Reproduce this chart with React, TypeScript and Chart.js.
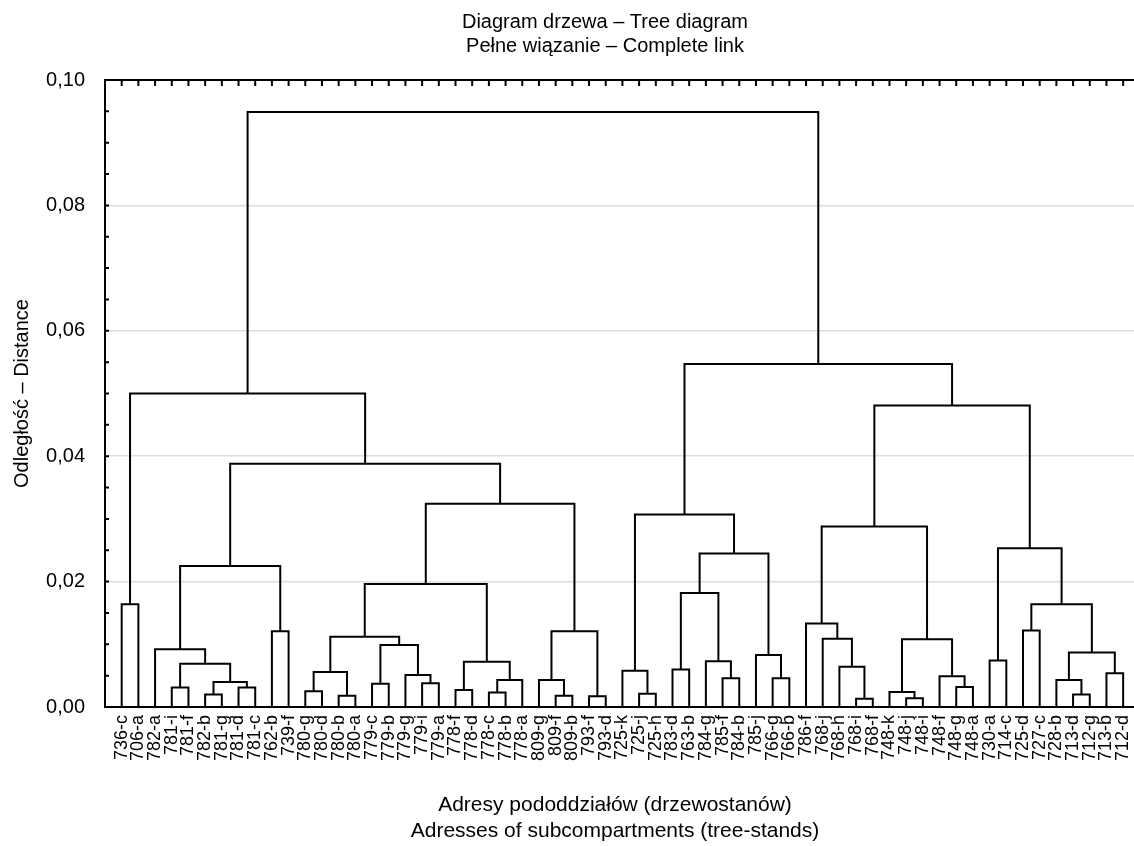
import React, { useEffect, useRef } from 'react';
import { Chart, registerables } from 'chart.js';

Chart.register(...registerables);

const FONT = '"Liberation Sans", Arial, Helvetica, sans-serif';

const titleLines = ['Diagram drzewa – Tree diagram', 'Pełne wiązanie – Complete link'];
const xAxisTitle = ['Adresy pododdziałów (drzewostanów)', 'Adresses of subcompartments (tree-stands)'];
const yAxisTitle = 'Odległość – Distance';

// leaves in dendrogram order (left to right)
const leafLabels = [
  '736-c', '706-a', '782-a', '781-i', '781-f', '782-b', '781-g', '781-d', '781-c', '762-b',
  '739-f', '780-g', '780-d', '780-b', '780-a', '779-c', '779-b', '779-g', '779-i', '779-a',
  '778-f', '778-d', '778-c', '778-b', '778-a', '809-g', '809-f', '809-b', '793-f', '793-d',
  '725-k', '725-j', '725-h', '783-d', '763-b', '784-g', '785-f', '784-b', '785-j', '766-g',
  '766-b', '786-f', '768-j', '768-h', '768-i', '768-f', '748-k', '748-j', '748-i', '748-f',
  '748-g', '748-a', '730-a', '714-c', '725-d', '727-c', '728-b', '713-d', '712-g', '713-b',
  '712-d',
];

// linkage: [childA, childB, distance]; ids 0..60 are leaves, id 61+k is the cluster made by row k
const linkage: [number, number, number][] = [
  [0, 1, 0.0164],     // 61
  [3, 4, 0.0031],     // 62
  [5, 6, 0.0020],     // 63
  [7, 8, 0.0031],     // 64
  [63, 64, 0.0040],   // 65
  [62, 65, 0.0069],   // 66
  [2, 66, 0.0092],    // 67
  [9, 10, 0.0121],    // 68
  [67, 68, 0.0225],   // 69
  [11, 12, 0.0025],   // 70
  [13, 14, 0.0018],   // 71
  [70, 71, 0.0056],   // 72
  [15, 16, 0.0037],   // 73
  [18, 19, 0.0038],   // 74
  [17, 74, 0.0051],   // 75
  [73, 75, 0.0099],   // 76
  [72, 76, 0.0112],   // 77
  [20, 21, 0.0027],   // 78
  [22, 23, 0.0023],   // 79
  [79, 24, 0.0043],   // 80
  [78, 80, 0.0072],   // 81
  [77, 81, 0.0196],   // 82
  [26, 27, 0.0018],   // 83
  [25, 83, 0.0043],   // 84
  [28, 29, 0.0017],   // 85
  [84, 85, 0.0121],   // 86
  [82, 86, 0.0324],   // 87
  [69, 87, 0.0388],   // 88
  [61, 88, 0.0500],   // 89
  [31, 32, 0.0021],   // 90
  [30, 90, 0.0058],   // 91
  [33, 34, 0.0060],   // 92
  [36, 37, 0.0046],   // 93
  [35, 93, 0.0073],   // 94
  [92, 94, 0.0182],   // 95
  [39, 40, 0.0046],   // 96
  [38, 96, 0.0083],   // 97
  [95, 97, 0.0245],   // 98
  [91, 98, 0.0307],   // 99
  [44, 45, 0.0013],   // 100
  [43, 100, 0.0064],  // 101
  [42, 101, 0.0109],  // 102
  [41, 102, 0.0133],  // 103
  [47, 48, 0.0014],   // 104
  [46, 104, 0.0024],  // 105
  [50, 51, 0.0032],   // 106
  [49, 106, 0.0049],  // 107
  [105, 107, 0.0108], // 108
  [103, 108, 0.0288], // 109
  [52, 53, 0.0074],   // 110
  [54, 55, 0.0122],   // 111
  [57, 58, 0.0020],   // 112
  [56, 112, 0.0043],  // 113
  [59, 60, 0.0054],   // 114
  [113, 114, 0.0087], // 115
  [111, 115, 0.0164], // 116
  [110, 116, 0.0253], // 117
  [109, 117, 0.0481], // 118
  [99, 118, 0.0547],  // 119
  [89, 119, 0.0949],  // 120
];

const yMajorTicks = [0, 0.02, 0.04, 0.06, 0.08, 0.1];
const yMinorPerMajor = 4;

function buildSegments() {
  const pos: number[] = leafLabels.map((_, i) => i);
  const hgt: number[] = leafLabels.map(() => 0);
  return linkage.map(([a, b, h]) => {
    const seg = [
      { x: pos[a], y: hgt[a] },
      { x: pos[a], y: h },
      { x: pos[b], y: h },
      { x: pos[b], y: hgt[b] },
    ];
    pos.push((pos[a] + pos[b]) / 2);
    hgt.push(h);
    return seg;
  });
}

function buildYTicks() {
  const out: number[] = [];
  for (let i = 0; i < yMajorTicks.length - 1; i++) {
    const a = yMajorTicks[i];
    const b = yMajorTicks[i + 1];
    for (let k = 0; k < yMinorPerMajor; k++) out.push(a + ((b - a) * k) / yMinorPerMajor);
  }
  out.push(yMajorTicks[yMajorTicks.length - 1]);
  return out;
}

const isMajor = (v: number) => yMajorTicks.some((m) => Math.abs(m - v) < 1e-9);

const framePlugin = {
  id: 'frame',
  afterDraw(chart: any) {
    const { ctx, chartArea } = chart;
    const { left, right, top } = chartArea;
    const xs = chart.scales.x;
    const ys = chart.scales.y;
    ctx.save();
    ctx.strokeStyle = '#000';
    ctx.lineWidth = 2;
    ctx.beginPath();
    ctx.moveTo(left - 1, top);
    ctx.lineTo(right, top);
    ctx.stroke();
    ctx.beginPath();
    leafLabels.forEach((_, i) => {
      const px = xs.getPixelForValue(i);
      ctx.moveTo(px, top);
      ctx.lineTo(px, top + 6);
    });
    buildYTicks().forEach((v) => {
      const py = ys.getPixelForValue(v);
      ctx.moveTo(left, py);
      ctx.lineTo(left + 4, py);
    });
    ctx.stroke();
    ctx.fillStyle = '#000';
    ctx.font = `20px ${FONT}`;
    ctx.textAlign = 'center';
    ctx.textBaseline = 'middle';
    ctx.fillText(titleLines[0], 605, 22);
    ctx.fillText(titleLines[1], 605, 46);
    ctx.font = `21px ${FONT}`;
    ctx.fillText(xAxisTitle[0], 615, 805);
    ctx.fillText(xAxisTitle[1], 615, 831);
    ctx.restore();
  },
};

export default function App() {
  const ref = useRef<HTMLCanvasElement>(null);
  useEffect(() => {
    document.body.style.margin = '0';
    const canvas = ref.current;
    if (!canvas) return;
    Chart.defaults.font.family = FONT;
    const segments = buildSegments();
    const yTicks = buildYTicks();
    const chart = new Chart(canvas, {
      type: 'line',
      data: {
        datasets: segments.map((seg) => ({
          data: seg,
          borderColor: '#000',
          borderWidth: 2,
          pointRadius: 0,
          fill: false,
          tension: 0,
        })),
      },
      options: {
        animation: false,
        responsive: false,
        layout: { padding: { top: 80, left: 0, right: 0, bottom: 0 } },
        plugins: {
          legend: { display: false },
          tooltip: { enabled: false },
          title: { display: false },
        },
        scales: {
          x: {
            type: 'linear',
            min: -1,
            max: 60.65,
            afterBuildTicks: (s: any) => {
              s.ticks = leafLabels.map((_, i) => ({ value: i }));
            },
            afterFit: (s: any) => {
              s.height = 139;
              s.paddingLeft = 0;
              s.paddingRight = 0;
            },
            grid: { display: false, drawTicks: false },
            border: { display: true, color: '#000', width: 2 },
            ticks: {
              autoSkip: false,
              minRotation: 90,
              maxRotation: 90,
              padding: 8,
              color: '#000',
              font: { size: 18 },
              callback: (v: any) => leafLabels[Math.round(Number(v))] ?? '',
            },
            title: { display: false },
          },
          y: {
            type: 'linear',
            min: 0,
            max: 0.1,
            afterBuildTicks: (s: any) => {
              s.ticks = yTicks.map((v) => ({ value: v }));
            },
            afterFit: (s: any) => {
              s.width = 105;
            },
            grid: {
              drawTicks: false,
              lineWidth: 1.5,
              color: (c: any) => {
                const v = c.tick ? c.tick.value : -1;
                return isMajor(v) && v > 1e-9 && v < 0.1 - 1e-9 ? '#dddddd' : 'rgba(0,0,0,0)';
              },
            },
            border: { display: true, color: '#000', width: 2 },
            ticks: {
              padding: 20,
              color: '#000',
              font: { size: 20 },
              callback: (v: any) => (isMajor(Number(v)) ? Number(v).toFixed(2).replace('.', ',') : ''),
            },
            title: {
              display: true,
              text: yAxisTitle,
              color: '#000',
              font: { size: 20, lineHeight: 1.2 },
              padding: { top: 10, bottom: 0 },
            },
          },
        },
      },
      plugins: [framePlugin],
    });
    return () => chart.destroy();
  }, []);
  return (
    <div style={{ width: 1134, height: 846, background: '#fff' }}>
      <canvas ref={ref} width={1134} height={846} style={{ display: 'block' }} />
    </div>
  );
}
